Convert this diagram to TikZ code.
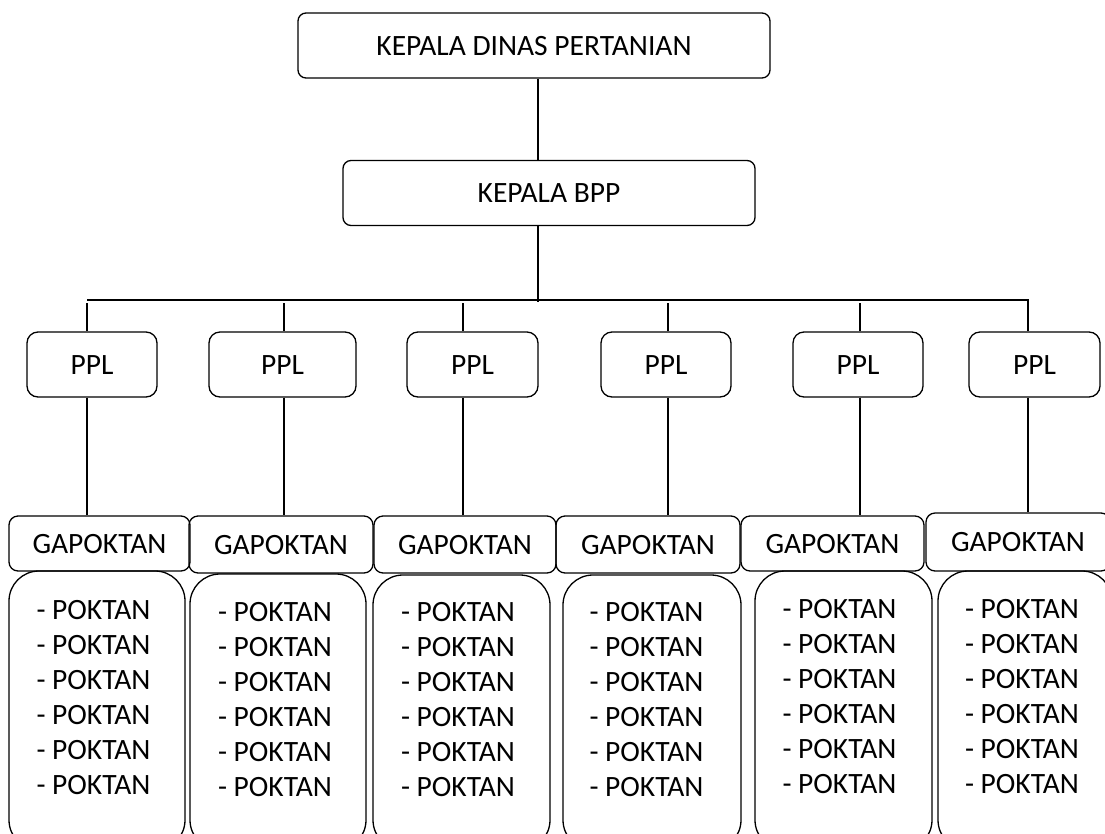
\documentclass[tikz,border=0pt]{standalone}
\usepackage{fontspec}
\setmainfont{Carlito}
\tikzset{
  box/.style={draw, line width=1.3pt, inner sep=0pt, font=\fontsize{29.5}{35}\selectfont, text height=19pt, text depth=0pt},
  smallround/.style={box, rounded corners=8pt},
  pplbox/.style={box, rounded corners=11pt, minimum height=65pt},
  gapbox/.style={box, rounded corners=9pt},
  pokbox/.style={draw, line width=1.3pt, inner sep=0pt, rounded corners=30pt},
  listtext/.style={inner sep=0pt, align=left, anchor=north, font=\fontsize{29.5}{35}\selectfont},
  conn/.style={line width=1.3pt}
}
\newcommand{\pklist}{- POKTAN\\- POKTAN\\- POKTAN\\- POKTAN\\- POKTAN\\- POKTAN}
\begin{document}
\begin{tikzpicture}[x=1pt,y=-1pt]
\useasboundingbox (0,0) rectangle (1105,833);
\clip (0,0) rectangle (1105,833);
\fill[white] (0,0) rectangle (1105,833);

% top levels
\node[smallround, minimum width=472pt, minimum height=65pt] (kd) at (534,45.5) {KEPALA DINAS PERTANIAN};
\node[smallround, minimum width=412pt, minimum height=65pt] (bpp) at (549,193) {KEPALA BPP};

% PPL
\node[pplbox, minimum width=130pt] (p1) at (92,364.5) {PPL};
\node[pplbox, minimum width=147pt] (p2) at (282.5,364.5) {PPL};
\node[pplbox, minimum width=131pt] (p3) at (472.5,364.5) {PPL};
\node[pplbox, minimum width=130pt] (p4) at (666,364.5) {PPL};
\node[pplbox, minimum width=130pt] (p5) at (858,364.5) {PPL};
\node[pplbox, minimum width=131pt] (p6) at (1034.5,364.5) {PPL};

% GAPOKTAN
\node[gapbox, minimum width=181pt, minimum height=55pt] (g1) at (99.5,543.5) {GAPOKTAN};
\node[gapbox, minimum width=184pt, minimum height=57pt] (g2) at (281,544.5) {GAPOKTAN};
\node[gapbox, minimum width=182pt, minimum height=57pt] (g3) at (465,544.5) {GAPOKTAN};
\node[gapbox, minimum width=184pt, minimum height=57pt] (g4) at (648,544.5) {GAPOKTAN};
\node[gapbox, minimum width=183pt, minimum height=55pt] (g5) at (832.5,543.5) {GAPOKTAN};
\node[gapbox, minimum width=184pt, minimum height=58pt] (g6) at (1018,542) {GAPOKTAN};

% POKTAN boxes
\node[pokbox, minimum width=176pt, minimum height=279pt] (k1) at (97,710.5) {};
\node[pokbox, minimum width=176pt, minimum height=276pt] (k2) at (278,712) {};
\node[pokbox, minimum width=177pt, minimum height=275pt] (k3) at (461.5,712.5) {};
\node[pokbox, minimum width=178pt, minimum height=275pt] (k4) at (652,712.5) {};
\node[pokbox, minimum width=177pt, minimum height=279pt] (k5) at (843.5,710.5) {};
\node[pokbox, minimum width=174pt, minimum height=279pt] (k6) at (1025,710.5) {};

\node[listtext] (l1) at (93.5,600) {\pklist};
\node[listtext] (l2) at (275,602) {\pklist};
\node[listtext] (l3) at (458,602) {\pklist};
\node[listtext] (l4) at (646.5,602) {\pklist};
\node[listtext] (l5) at (839.5,599) {\pklist};
\node[listtext] (l6) at (1022,599) {\pklist};

% connectors
\draw[conn] (538,0 |- kd.south) -- (538,0 |- bpp.north);
\coordinate (busL) at (87,300);
\coordinate (busR) at (1028,300);
\coordinate (tr) at (538,302);
\draw[conn] (538,0 |- bpp.south) -- (tr);
\draw[conn] (busL) -- (busR) -- (busR |- p6.north);
\draw[conn] (87,303) -- (87,0 |- p1.north);
\draw[conn] (284,303) -- (284,0 |- p2.north);
\draw[conn] (463,303) -- (463,0 |- p3.north);
\draw[conn] (668,303) -- (668,0 |- p4.north);
\draw[conn] (860,303) -- (860,0 |- p5.north);

\draw[conn] (87,0 |- p1.south) -- (87,0 |- g1.north);
\draw[conn] (284,0 |- p2.south) -- (284,0 |- g2.north);
\draw[conn] (463,0 |- p3.south) -- (463,0 |- g3.north);
\draw[conn] (668,0 |- p4.south) -- (668,0 |- g4.north);
\draw[conn] (860,0 |- p5.south) -- (860,0 |- g5.north);
\draw[conn] (1028,0 |- p6.south) -- (1028,0 |- g6.north);
\end{tikzpicture}
\end{document}
